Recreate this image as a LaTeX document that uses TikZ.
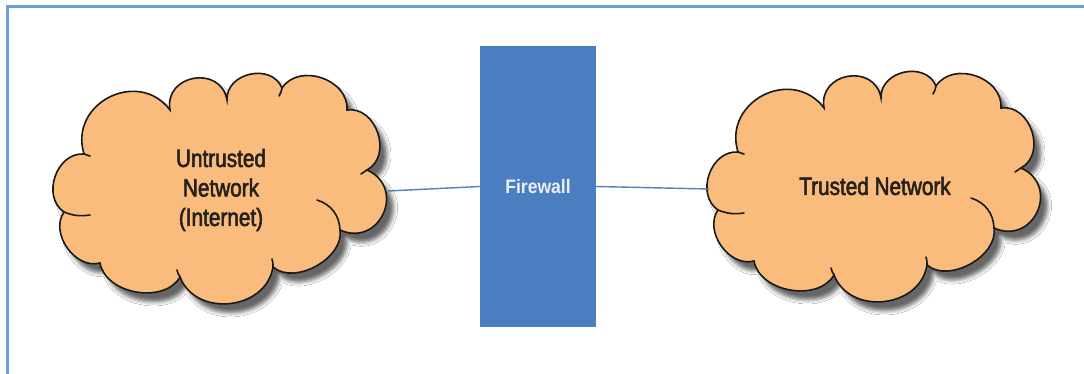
\documentclass[tikz,border=0pt]{standalone}
\usepackage{fontspec}
\setmainfont{Liberation Sans}
\newfontfamily\labelfont{Liberation Sans}[FakeStretch=0.83,FakeBold=2.2]
\newfontfamily\fwfont{Liberation Sans Bold}[FakeStretch=0.9]
\usetikzlibrary{shadows.blur}

\definecolor{cloudfill}{RGB}{249,188,124}
\definecolor{fwblue}{RGB}{74,126,192}
\definecolor{linkblue}{RGB}{79,129,189}
\definecolor{frameblue}{RGB}{106,159,221}
\definecolor{labelgray}{RGB}{36,32,28}
\definecolor{fwtext}{RGB}{234,240,250}

\tikzset{
  frameline/.style={draw=frameblue, line width=2.2pt},
  cloudbody/.style={draw=black!90, line width=1.6pt, fill=cloudfill,
    blur shadow={shadow xshift=7pt, shadow yshift=-9pt,
      shadow blur radius=4pt, shadow opacity=60}},
  cloudedge/.style={draw=black!90, line width=1.6pt, line cap=round},
  cloudtext/.style={align=center, text=labelgray, inner sep=0pt,
    font=\labelfont\fontsize{25}{29.5}\selectfont},
  fwbox/.style={fill=fwblue, minimum width=116pt, minimum height=281pt,
    inner sep=0pt, text=fwtext, font=\fwfont\fontsize{19.5}{22}\selectfont},
  link/.style={draw=linkblue, line width=1.4pt},
  % an office-style cloud centred on the pic origin
  pics/netcloud/.style={code={
    \path[cloudbody] (-137,-36)
      to[bend left=80,looseness=1.4] (-51,-80)
      to[bend left=90,looseness=1.6] (6,-90)
      to[bend left=80,looseness=1.25] (61,-102)
      to[bend left=75,looseness=1.15] (126,-80)
      to[bend left=80,looseness=1.2] (146,-20)
      to[bend left=90,looseness=1.7] (119,40)
      to[bend left=70,looseness=0.95] (52,77)
      to[bend left=75,looseness=1.2] (-41,87)
      to[bend left=70,looseness=1.0] (-121,73)
      to[bend left=70,looseness=1.05] (-157,22)
      to[bend left=75,looseness=1.15] (-137,-36) -- cycle;
    % inner strokes of the puffs
    \draw[cloudedge] (-157,22) to[bend right=15] (-131,25);
    \draw[cloudedge] (96,10) to[bend left=35] (119,40);
    \draw[cloudedge] (-137,-36) to[bend left=10] (-131,-34);
    \draw[cloudedge] (61,-102) to[bend left=10] (58,-94);
    \draw[cloudedge] (146,-20) to[bend right=10] (140,-16);
    \draw[cloudedge] (52,77) to[bend right=10] (51,69);
    \draw[cloudedge] (-41,87) to[bend left=10] (-44,80);
  }}
}

\begin{document}
\begin{tikzpicture}[x=1pt, y=-1pt]
  \useasboundingbox (0,0) rectangle (1084,374);
  \fill[white] (0,0) rectangle (1084,374);

  % page frame
  \draw[frameline] (7.5,374) -- (7.5,6.5) -- (1084,6.5);

  % the two networks
  \pic at (221,190) {netcloud};
  \node[cloudtext] (untrusted) at (221,190) {Untrusted\\Network\\(Internet)};
  \pic at (875,188) {netcloud};
  \node[cloudtext] (trusted) at (875,186) {Trusted Network};

  % firewall between them
  \node[fwbox] (fw) at (538,186.5) {Firewall};

  % connection points on the cloud rims
  \coordinate (untrusted-port) at (388,191);
  \coordinate (trusted-port) at (709,189);

  \draw[link] (untrusted-port) -- (fw.west);
  \draw[link] (fw.east) -- (trusted-port);
\end{tikzpicture}
\end{document}
